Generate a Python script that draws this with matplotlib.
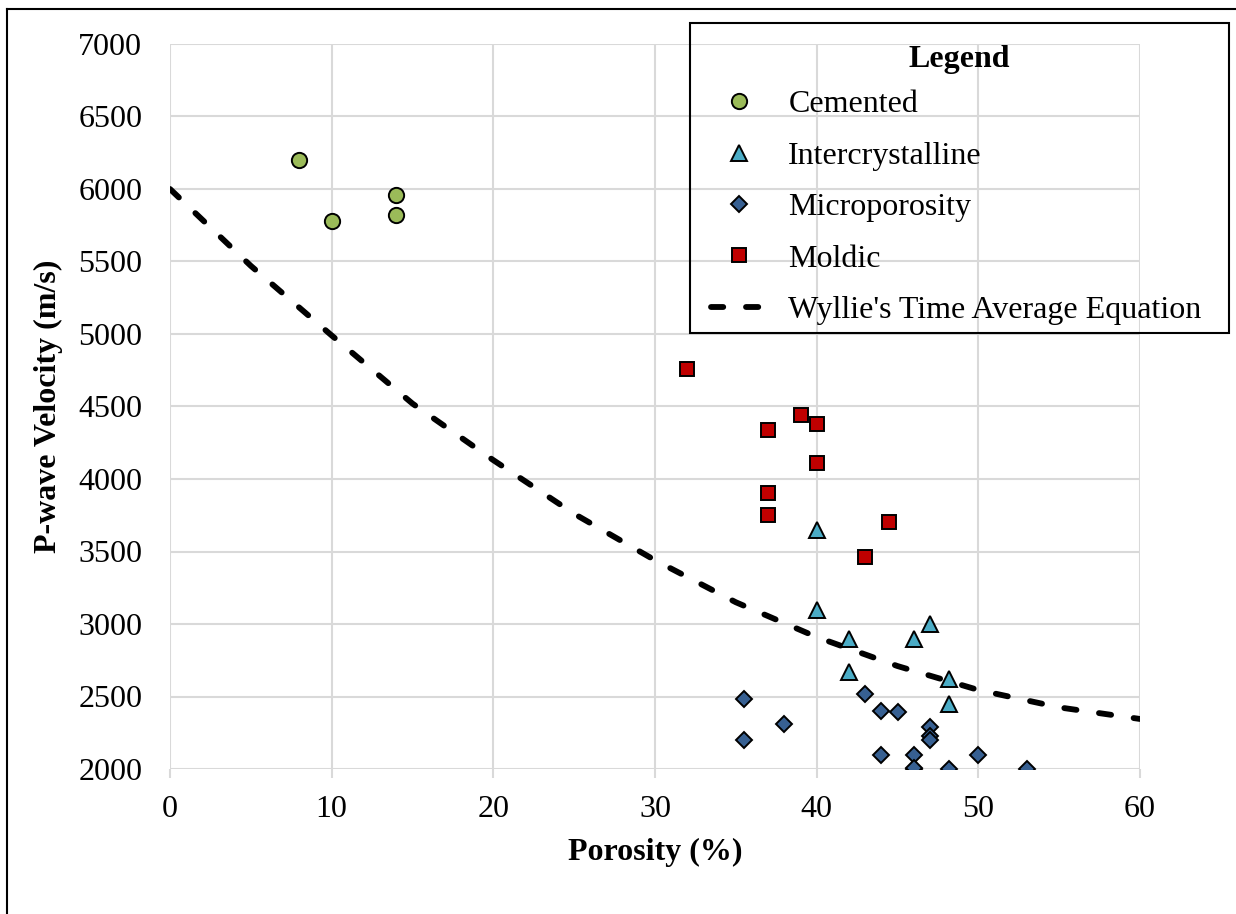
import matplotlib
matplotlib.use("Agg")
import matplotlib.pyplot as plt
from matplotlib.lines import Line2D
from matplotlib.patches import Rectangle

plt.rcParams['font.family'] = ['Liberation Serif', 'DejaVu Serif']

# porosity (%) and P-wave velocity (m/s) for each pore type
cemented_phi = [8, 10, 14, 14]
cemented_v = [6200, 5780, 5960, 5820]

inter_phi = [40, 40, 42, 42, 46, 47, 48.2, 48.2]
inter_v = [3650, 3100, 2900, 2670, 2900, 3000, 2620, 2450]

micro_phi = [35.5, 35.5, 38, 43, 44, 45, 47, 47, 47, 44, 46, 50, 46, 46, 48.2, 53]
micro_v = [2480, 2200, 2310, 2520, 2400, 2390, 2290, 2230, 2200, 2100, 2100, 2100, 2000, 2010, 2000, 2000]

moldic_phi = [32, 37, 39, 40, 40, 37, 37, 44.5, 43]
moldic_v = [4760, 4340, 4440, 4380, 4110, 3900, 3750, 3700, 3460]

# Wyllie's time average curve
wyllie_phi = [0, 5, 10, 15, 20, 25, 30, 35, 40, 45, 50, 55, 60]
wyllie_v = [6000, 5470, 4990, 4520, 4130, 3760, 3440, 3150, 2910, 2710, 2545, 2425, 2345]

W, H = 1236, 914
fig = plt.figure(figsize=(W / 100, H / 100), dpi=100)
ax = fig.add_axes([170 / W, 1 - 769 / H, (1140 - 170) / W, (769 - 44) / H])

fs = 23
ax.plot(wyllie_phi, wyllie_v, color='black', lw=4.2, dashes=(2.1, 3.9),
        dash_capstyle='round', label="Wyllie's Time Average Equation", zorder=2)

mk = dict(linestyle='none', markeredgecolor='black', markeredgewidth=1.4, zorder=3)
ax.plot(cemented_phi, cemented_v, marker='o', markersize=11, color='#9BBB59', label='Cemented', **mk)
ax.plot(inter_phi, inter_v, marker='^', markersize=11, color='#4BACC6', label='Intercrystalline', **mk)
ax.plot(micro_phi, micro_v, marker='D', markersize=8.5, color='#376092', label='Microporosity', **mk)
ax.plot(moldic_phi, moldic_v, marker='s', markersize=10.5, color='#C00000', label='Moldic', **mk)

ax.set_xlim(0, 60)
ax.set_ylim(2000, 7000)
ax.set_xticks(range(0, 61, 10))
ax.set_yticks(range(2000, 7001, 500))
ax.grid(True, color='#D9D9D9', lw=1.5)
ax.set_axisbelow(True)
for s in ax.spines.values():
    s.set_visible(False)
ax.tick_params(labelsize=fs)
ax.tick_params(axis='y', length=0, pad=20)
ax.tick_params(axis='x', length=6.5, width=1.5, color='#D9D9D9', pad=12)

ax.set_xlabel('Porosity (%)', fontsize=fs, fontweight='bold', labelpad=10)
ax.set_ylabel('P-wave Velocity (m/s)', fontsize=fs, fontweight='bold', labelpad=11)

handles, labels = ax.get_legend_handles_labels()
order = [1, 2, 3, 4, 0]
leg = fig.legend([handles[i] for i in order], [labels[i] for i in order],
                 loc='upper left', bbox_to_anchor=(711 / W, 1 - 90 / H),
                 borderaxespad=0, borderpad=0, fontsize=fs, frameon=False,
                 labelspacing=0.69, handlelength=1.75, handletextpad=0.67)

# legend box and title drawn separately to match the spacing
fig.add_artist(Rectangle((690 / W, 1 - 333 / H), (1228.5 - 690) / W, (333 - 22.5) / H,
                         transform=fig.transFigure, fill=False, edgecolor='black', lw=1.5))
fig.text(959 / W, 1 - 67 / H, 'Legend', ha='center', va='baseline',
         fontsize=fs, fontweight='bold')

# outer border of the figure
fig.add_artist(Line2D([7 / W, 1], [1 - 9 / H, 1 - 9 / H], color='black', lw=1.5))
fig.add_artist(Line2D([7 / W, 7 / W], [0, 1 - 9 / H], color='black', lw=1.5))

fig.savefig('out.png', dpi=100)
